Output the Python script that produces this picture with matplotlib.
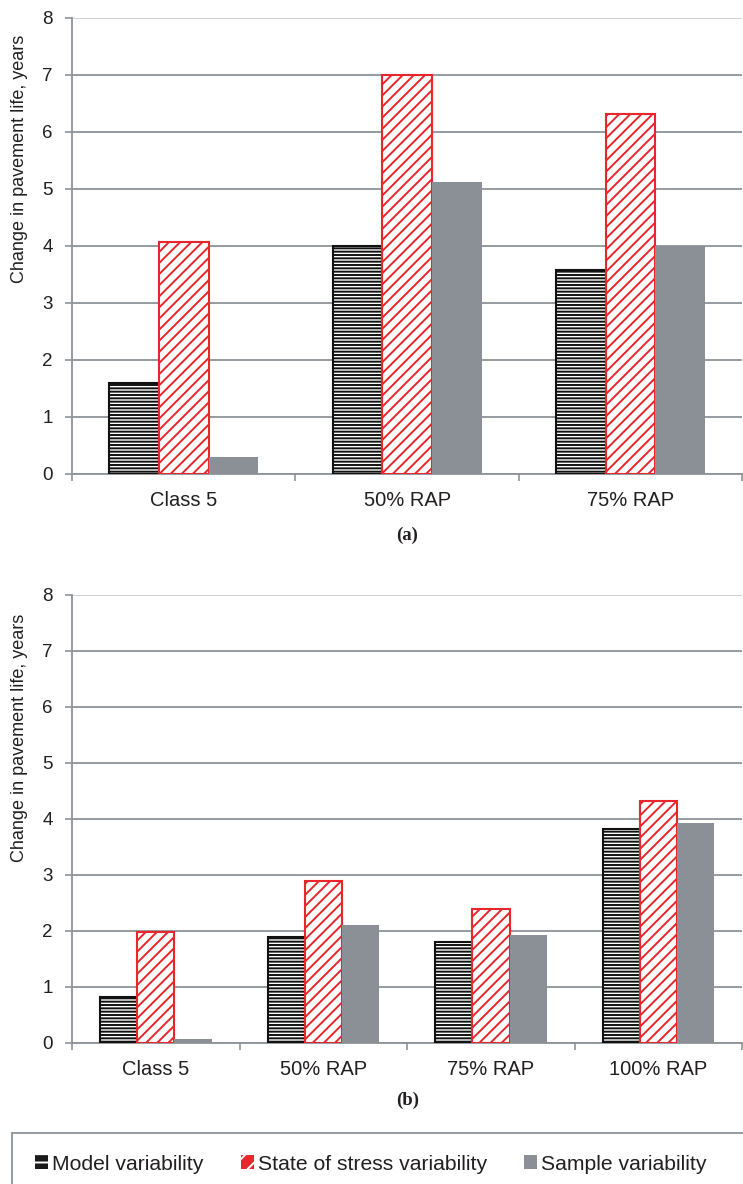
import matplotlib.pyplot as plt
import numpy as np
from matplotlib.patches import Patch, Rectangle

plt.rcParams['font.family'] = ['Liberation Sans', 'DejaVu Sans']
plt.rcParams['hatch.linewidth'] = 1.4

# panel (a)
cats_a = ['Class 5', '50% RAP', '75% RAP']
model_a = [1.6, 4.0, 3.57]
stress_a = [4.07, 7.0, 6.32]
sample_a = [0.3, 5.12, 4.0]

# panel (b)
cats_b = ['Class 5', '50% RAP', '75% RAP', '100% RAP']
model_b = [0.82, 1.9, 1.8, 3.82]
stress_b = [1.98, 2.9, 2.4, 4.32]
sample_b = [0.08, 2.1, 1.92, 3.92]

series_names = ['Model variability', 'State of stress variability', 'Sample variability']

GRID = '#8e9399'
GREY = '#8a9096'
RED = '#e8262b'
TXT = '#231f20'

fig = plt.figure(figsize=(7.43, 11.84), dpi=100)


def panel(ax, cats, model, stress, sample, width, letter, letter_y, ylabel_y):
    x = np.arange(len(cats))
    ax.bar(x - width, model, width, facecolor='white', edgecolor='#111111',
           hatch='-----', linewidth=1.5, zorder=3)
    ax.bar(x, stress, width, facecolor='white', edgecolor=RED,
           hatch='///', linewidth=1.5, zorder=3)
    ax.bar(x + width, sample, width, facecolor=GREY, edgecolor='none', zorder=3)
    ax.set_xlim(-0.5, len(cats) - 0.5)
    ax.set_ylim(0, 8)
    ax.set_yticks(range(0, 9))
    ax.yaxis.grid(True, color=GRID, linewidth=1.3, zorder=0)
    ax.get_ygridlines()[-1].set_color('#c8ccd0')
    ax.set_xticks(x)
    ax.set_xticklabels(cats)
    ax.set_xticks(np.arange(len(cats) + 1) - 0.5, minor=True)
    ax.tick_params(axis='x', which='major', length=0, pad=12.5, labelsize=14.5, labelcolor=TXT)
    ax.tick_params(axis='x', which='minor', length=5, width=1.2, color=GRID)
    ax.tick_params(axis='y', length=5, width=1.2, color=GRID, labelsize=13.5,
                   labelcolor=TXT, pad=9)
    for s in ['top', 'right']:
        ax.spines[s].set_visible(False)
    ax.spines['left'].set_color(GRID)
    ax.spines['bottom'].set_color(GRID)
    ax.spines['left'].set_linewidth(1.3)
    ax.spines['bottom'].set_linewidth(1.3)
    ax.set_ylabel('Change in pavement life, years', fontsize=13, color=TXT)
    ax.yaxis.set_label_coords(-0.0657, ylabel_y)
    ax.text(0.5, letter_y, letter, transform=ax.transAxes, ha='center', va='center',
            fontsize=13.5, fontweight='bold', family='Liberation Serif', color=TXT)


ax1 = fig.add_axes([0.097, 0.5997, 0.902, 0.3851])
panel(ax1, cats_a, model_a, stress_a, sample_a, 0.222, '(a)', -0.134, 0.69)

ax2 = fig.add_axes([0.097, 0.1191, 0.902, 0.3784])
panel(ax2, cats_b, model_b, stress_b, sample_b, 0.222, '(b)', -0.129, 0.68)

# legend box
fig.patches.append(Rectangle((12 / 743, -0.01), 0.99, 0.0431 + 0.01,
                             transform=fig.transFigure, facecolor='none',
                             edgecolor=GRID, linewidth=1.3))

handles = [
    Patch(facecolor='#1a1a1a', edgecolor='white', hatch='--', linewidth=0),
    Patch(facecolor=RED, edgecolor='white', hatch='//', linewidth=0),
    Patch(facecolor=GREY, edgecolor='none'),
]
leg = fig.legend(handles, series_names, loc='center left',
                 bbox_to_anchor=(35 / 743, 1 - 1164 / 1184),
                 ncol=3, frameon=False, fontsize=15.2,
                 handlelength=0.62, handleheight=0.62, handletextpad=0.2,
                 columnspacing=1.75, borderaxespad=0.0, borderpad=0.0)
for t in leg.get_texts():
    t.set_color(TXT)

fig.savefig('out.png', dpi=100)
